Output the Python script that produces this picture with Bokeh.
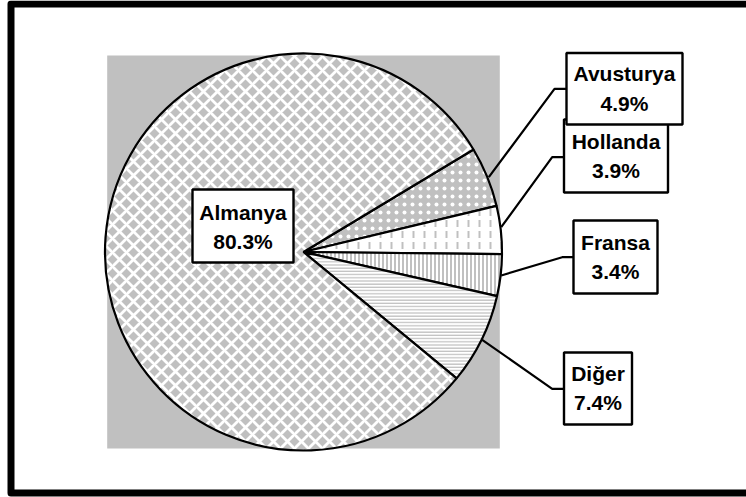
import math
from bokeh.plotting import figure
from bokeh.models import Range1d
from bokeh.embed import file_html
from bokeh.resources import INLINE
from bokeh.core.properties import value

# ---- data (clockwise from the upper-right) ----
categories = ["Avusturya", "Hollanda", "Fransa", "Diğer", "Almanya"]
shares = [4.9, 3.9, 3.4, 7.4, 80.3]
share_labels = ["4.9%", "3.9%", "3.4%", "7.4%", "80.3%"]

# ---- layout (page pixel coordinates) ----
W, H = 746, 497
X0 = 0
def Y(py):
    return H - py

CX, CY, R = 303.0, 251.5, 198.5
START_DEG = 31.1

# slice styles: fill, hatch pattern, hatch colour, scale, weight
styles = {
    "Avusturya": ("#c0c0c0", "dot", "white", 8, 1.2),
    "Hollanda": ("white", "vertical_dash", "#c0c0c0", 11, 2),
    "Fransa": ("white", "vertical_line", "#c0c0c0", 4, 2),
    "Diğer": ("white", "horizontal_line", "#c0c0c0", 3.2, 1.3),
    "Almanya": ("#c0c0c0", "diagonal_cross", "white", 14, 2.8),
}

# label boxes: left, top, right, bottom, line1 y, line2 y
boxes = {
    "Almanya": (192, 189, 293, 262, 212, 241),
    "Hollanda": (563.5, 119, 667.5, 192, 141, 170),
    "Avusturya": (566, 52.5, 682, 124, 72.5, 102.5),
    "Fransa": (573, 220, 657, 293, 242, 271),
    "Diğer": (563.5, 352, 631.5, 424, 373, 402),
}
# leader lines (page coords)
leaders = {
    "Avusturya": [(488.3, 176.7), (554, 88.3), (566, 88.3)],
    "Hollanda": [(500.7, 226.7), (551.7, 156.7), (563.5, 156.7)],
    "Fransa": [(500.7, 275), (561.7, 256.7), (573, 256.7)],
    "Diğer": [(481.7, 339.3), (551.7, 388.3), (563.5, 388.3)],
}

p = figure(width=W, height=H, x_range=Range1d(X0, X0 + W), y_range=Range1d(0, H),
           output_backend="svg", toolbar_location=None, min_border=0,
           x_axis_type=None, y_axis_type=None, outline_line_color=None,
           background_fill_color="white", border_fill_color="white")

# gray plot area
p.quad(left=106.7, right=499.3, top=Y(55), bottom=Y(448), fill_color="#c0c0c0", line_color=None)

total = sum(shares)
cum = 0.0
for cat, v in zip(categories, shares):
    a0 = START_DEG - cum * 360.0 / total
    a1 = a0 - v * 360.0 / total
    cum += v
    fill, pat, hc, hs, hw = styles[cat]
    p.wedge(x=CX, y=Y(CY), radius=R, start_angle=math.radians(a1), end_angle=math.radians(a0),
            direction="anticlock", fill_color=fill, hatch_pattern=pat, hatch_color=hc,
            hatch_scale=hs, hatch_weight=hw, line_color="black", line_width=2.2)

for cat, pts in leaders.items():
    p.line([q[0] for q in pts], [Y(q[1]) for q in pts], line_color="black", line_width=2.2)

for cat in ["Almanya", "Hollanda", "Avusturya", "Fransa", "Diğer"]:
    l, t, r, b, _, _ = boxes[cat]
    p.quad(left=l, right=r, top=Y(t), bottom=Y(b), fill_color="white", line_color="black", line_width=2.4)

for cat, lab in zip(categories, share_labels):
    l, t, r, b, y1, y2 = boxes[cat]
    xc = (l + r) / 2
    p.text(x=[xc, xc], y=[Y(y1), Y(y2)], text=[cat, lab], text_font=value("Liberation Sans"),
           text_font_style="bold", text_font_size="21px", text_align="center",
           text_baseline="middle", text_color="black")

# outer frame
p.quad(left=10.5, right=770, top=Y(3.5), bottom=Y(492.5), fill_color=None,
       line_color="black", line_width=7, line_join="round")

open("out.html", "w").write(file_html(p, INLINE))
